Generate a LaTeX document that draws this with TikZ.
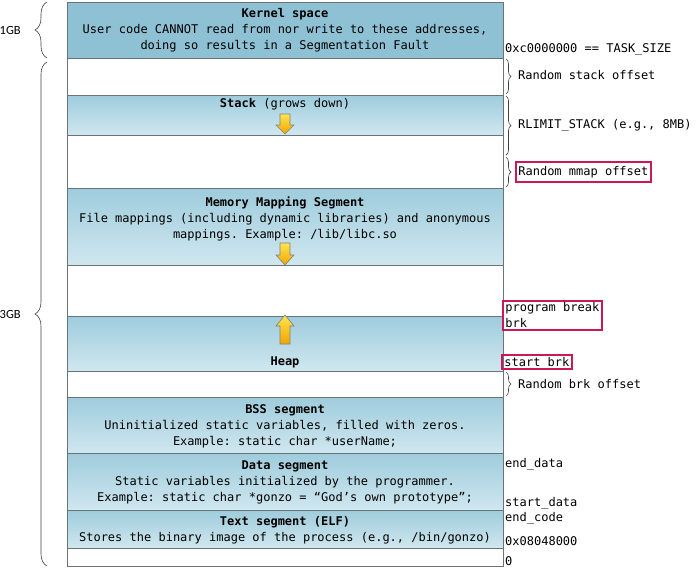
\documentclass[tikz,border=0pt]{standalone}
\usepackage{fontspec}
\usetikzlibrary{positioning,calc,decorations.pathreplacing}
\newfontfamily\codefont{DejaVu Sans Mono}
\newfontfamily\sizefont{Carlito}
\frenchspacing
\definecolor{kernblue}{RGB}{143,193,212}
\definecolor{segtop}{RGB}{158,204,220}
\definecolor{segbot}{RGB}{208,231,239}
\definecolor{segline}{RGB}{105,115,120}
\definecolor{hired}{RGB}{204,24,86}
\definecolor{arrtop}{RGB}{255,228,80}
\definecolor{arrbot}{RGB}{240,165,0}
\newcommand{\growarrow}[4]{% x, tail, head base, tip
	\draw[arrowbody] (#1-5,#2) -- (#1+5,#2) -- (#1+5,#3) -- (#1+9,#3) -- (#1,#4)
	-- (#1-9,#3) -- (#1-5,#3) -- cycle;}

\begin{document}
\begin{tikzpicture}[
		x=1pt, y=-1pt,
		base/.style={draw=segline, line width=0.9pt, minimum width=436pt, inner sep=0pt, outer sep=0pt},
		kernseg/.style={base, fill=kernblue},
		blueseg/.style={base, top color=segtop, bottom color=segbot},
		gapseg/.style={base, fill=white},
		txt/.style={font=\codefont\fontsize{12}{16}\selectfont, align=center, inner sep=0pt},
		addr/.style={font=\codefont\fontsize{12}{16}\selectfont, inner sep=0pt, anchor=base west},
		hilite/.style={draw=hired, line width=1.7pt, inner xsep=2.5pt, inner ysep=4pt,
			font=\codefont\fontsize{12}{16}\selectfont, align=left},
		rbrace/.style={decorate, decoration={brace, amplitude=5pt}, draw=black!75, line width=0.6pt},
		lbrace/.style={decorate, decoration={brace, amplitude=12pt}, draw=black!75, line width=0.6pt},
		gb/.style={font=\sizefont\fontsize{12.5}{14}\selectfont, inner sep=0pt},
		arrowbody/.style={draw=gray, line width=0.6pt, top color=arrtop, bottom color=arrbot}
		]
		\useasboundingbox (0,0) rectangle (696,570);
		
		% -------------------------
		% Segments, top to bottom
		% -------------------------
		\node[kernseg, minimum height=56pt, anchor=north west] (kern) at (67,2) {};
		\node[gapseg, minimum height=37pt, below=0pt of kern] (rso) {};
		\node[blueseg, minimum height=40pt, below=0pt of rso] (stack) {};
		\node[gapseg, minimum height=53pt, below=0pt of stack] (gap1) {};
		\node[blueseg, minimum height=77pt, below=0pt of gap1] (mmap) {};
		\node[gapseg, minimum height=51pt, below=0pt of mmap] (gap2) {};
		\node[blueseg, minimum height=55pt, below=0pt of gap2] (heap) {};
		\node[gapseg, minimum height=26pt, below=0pt of heap] (rbo) {};
		\node[blueseg, minimum height=56pt, below=0pt of rbo] (bss) {};
		\node[blueseg, minimum height=57pt, below=0pt of bss] (data) {};
		\node[blueseg, minimum height=38pt, below=0pt of data] (text) {};
		\node[gapseg, minimum height=18pt, below=0pt of text] (zero) {};
		
		% -------------------------
		% Segment texts
		% -------------------------
		\node[txt, below=6pt of kern.north] (kerntxt) {%
			\textbf{Kernel space}\\
			User code CANNOT read from nor write to these addresses,\\
			doing so results in a Segmentation Fault};
		\node[txt, below=3pt of stack.north] (stacktxt) {\textbf{Stack} (grows down)};
		\node[txt, below=9pt of mmap.north] (mmaptxt) {%
			\textbf{Memory Mapping Segment}\\
			File mappings (including dynamic libraries) and anonymous\\
			mappings. Example: /lib/libc.so};
		\node[txt, above=3pt of heap.south] (heaptxt) {\textbf{Heap}};
		\node[txt, below=7pt of bss.north] (bsstxt) {%
			\textbf{BSS segment}\\
			Uninitialized static variables, filled with zeros.\\
			Example: static char *userName;};
		\node[txt, below=8pt of data.north] (datatxt) {%
			\textbf{Data segment}\\
			Static variables initialized by the programmer.\\
			Example: static char *gonzo = “God’s own prototype”;};
		\node[txt, below=6pt of text.north] (texttxt) {%
			\textbf{Text segment (ELF)}\\
			Stores the binary image of the process (e.g., /bin/gonzo)};
		
		% growth arrows
		\growarrow{285}{114}{125}{134}
		\growarrow{285}{243}{255}{265}
		\growarrow{285}{344}{326}{315}
		
		% -------------------------
		% Right side labels
		% -------------------------
		\node[addr] (tasksize) at (505,52) {0xc0000000 == TASK\_SIZE};
		\node[addr] (rsolbl) at (518,79) {Random stack offset};
		\node[addr] (rlimlbl) at (518,128) {RLIMIT\_STACK (e.g., 8MB)};
		\node[hilite, anchor=west] (mmaplbl) at (515,172) {Random mmap offset};
		\node[hilite, anchor=north west, inner ysep=2pt] (brklbl) at (502,300) {program break\\brk};
		\node[hilite, anchor=west, inner ysep=2.5pt] (startbrk) at (501,362) {start brk};
		\node[addr] (rbolbl) at (518,388) {Random brk offset};
		\node[addr] (enddata) at (505,467) {end\_data};
		\node[addr] (startdata) at (505,506) {start\_data};
		\node[addr] (endcode) at (505,521) {end\_code};
		\node[addr] (textaddr) at (505,545) {0x08048000};
		\node[addr] (nulladdr) at (505,565) {0};
		
		% braces on the right
		\coordinate (rlimend) at ($(gap1.north east)!0.38!(gap1.south east)$);
		\coordinate (mmapstart) at ($(gap1.north east)!0.42!(gap1.south east)$);
		\draw[rbrace] ([xshift=3pt, yshift=-1pt]rso.north east) -- ([xshift=3pt, yshift=1pt]rso.south east);
		\draw[rbrace] ([xshift=3pt, yshift=-1pt]stack.north east) -- ([xshift=3pt]rlimend);
		\draw[rbrace] ([xshift=3pt]mmapstart) -- ([xshift=3pt, yshift=1pt]gap1.south east);
		\draw[rbrace] ([xshift=3pt, yshift=-1pt]rbo.north east) -- ([xshift=3pt, yshift=1pt]rbo.south east);
		
		% braces on the left
		\draw[lbrace] ([xshift=-20pt]kern.south west) -- ([xshift=-20pt]kern.north west)
		node[gb, midway, left=26pt] (onegb) {1GB};
		\draw[lbrace] ([xshift=-20pt]zero.south west) -- ([xshift=-20pt, yshift=-4pt]rso.north west)
		node[gb, midway, left=26pt] (threegb) {3GB};
		
	\end{tikzpicture}
\end{document}
